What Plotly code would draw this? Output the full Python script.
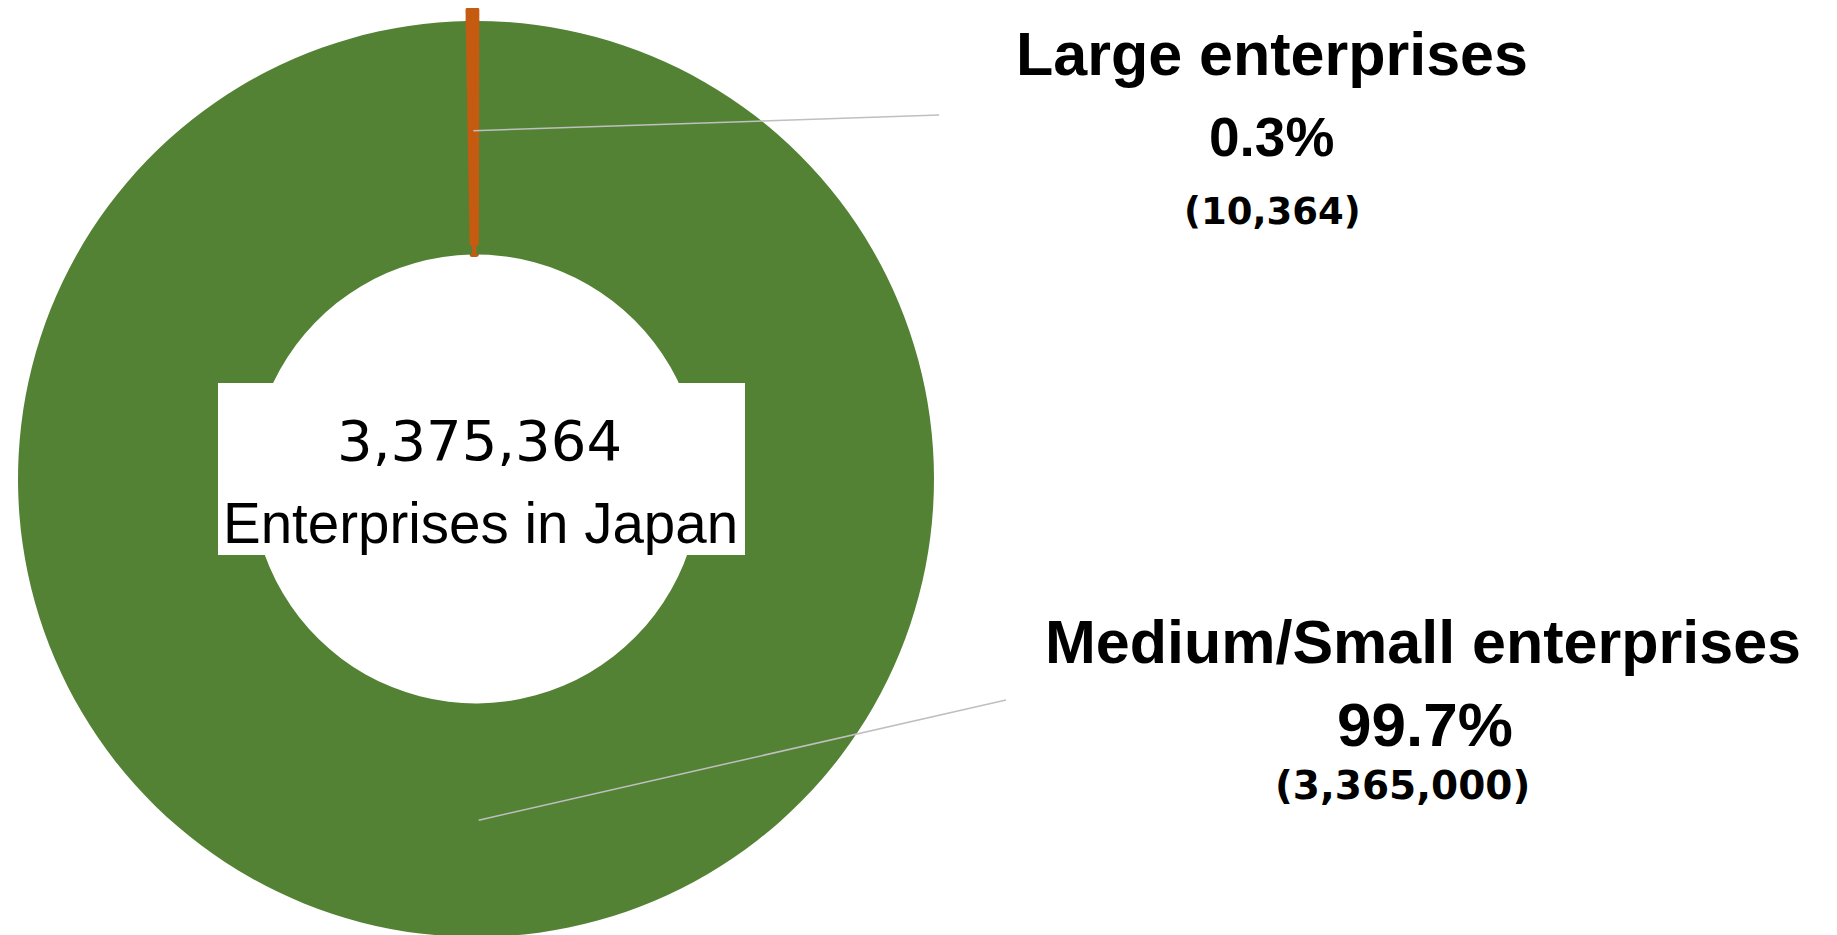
import math
import plotly.graph_objects as go

# ---------------- data ----------------
categories = ["Large enterprises", "Medium/Small enterprises"]
counts = [10364, 3365000]
slice_colors = ["#C55A11", "#548235"]
center_caption = "Enterprises in Japan"

# ---------------- layout geometry (figure pixels) ----------------
W, H = 1837, 935
CX, CY, R = 468, 471, 458
HOLE = 0.49
ROT = -1
LIFT = 11          # outward offset of the small "Large" slice (pixels)
EDGE = 5           # outline width of the small slice

def px(x):
    return x / W

def py(y):
    return 1 - y / H

def domain_for(cx, cy, r):
    return dict(x=[max(0, px(cx - r)), min(1, px(cx + r))],
                y=[max(0, py(cy + r)), min(1, py(cy - r))])

total = sum(counts)

fig = go.Figure()
fig.add_trace(go.Pie(
    labels=categories, values=counts, sort=False, direction="clockwise",
    rotation=ROT, hole=HOLE,
    marker=dict(colors=slice_colors,
                line=dict(color=[slice_colors[0], slice_colors[1]], width=[EDGE, 0])),
    textinfo="none", hoverinfo="label+value+percent",
    domain=domain_for(CX, CY, R), showlegend=False,
))
# the small slice drawn again, lifted outwards (exploded look)
fig.add_trace(go.Pie(
    labels=categories, values=counts, sort=False, direction="clockwise",
    rotation=ROT, hole=HOLE,
    marker=dict(colors=[slice_colors[0], "rgba(0,0,0,0)"],
                line=dict(color=[slice_colors[0], "rgba(0,0,0,0)"], width=[EDGE, 0])),
    textinfo="none", hoverinfo="skip",
    domain=domain_for(CX, CY - LIFT, R), showlegend=False,
))

# label placement per category (figure pixels)
label_layout = [
    dict(x_title=1264, y_title=45.5, x_pct=1263, y_pct=129, x_cnt=1264, y_cnt=203.5,
         title_size=61, pct_size=55, cnt_size=37, lead=7, end=(931, 107)),
    dict(x_title=1415, y_title=634, x_pct=1417, y_pct=716, x_cnt=1394, y_cnt=777.5,
         title_size=61, pct_size=62, cnt_size=39, lead=0, end=(998, 692)),
]

annotations = []
shapes = []

# white box behind the centre text
shapes.append(dict(type="rect", xref="paper", yref="paper",
                   x0=px(210), x1=px(737), y0=py(547), y1=py(375),
                   fillcolor="#FFFFFF", line=dict(width=0), layer="above"))

def add_text(text, x, y, family, size):
    annotations.append(dict(text=text, x=px(x), y=py(y), xref="paper", yref="paper",
                            showarrow=False, xanchor="center", yanchor="middle",
                            font=dict(family=family, size=size, color="#000000")))

cum = 0
for i, (cat, v) in enumerate(zip(categories, counts)):
    mid = math.radians(ROT + 360 * (cum + v / 2) / total)
    cum += v
    L = label_layout[i]
    rad = R * (1 + HOLE) / 2 + L["lead"]
    sx = CX + rad * math.sin(mid)
    sy = CY - rad * math.cos(mid)
    ex, ey = L["end"]
    shapes.append(dict(type="line", xref="paper", yref="paper",
                       x0=px(sx), y0=py(sy), x1=px(ex), y1=py(ey),
                       line=dict(color="#BFBFBF", width=1.5), layer="above"))
    pct = f"{100 * v / total:.1f}%"
    add_text(f"<b>{cat}</b>", L["x_title"], L["y_title"], "Liberation Sans, Arial", L["title_size"])
    add_text(f"<b>{pct}</b>", L["x_pct"], L["y_pct"], "Liberation Sans, Arial", L["pct_size"])
    add_text(f"<b>({v:,})</b>", L["x_cnt"], L["y_cnt"], "DejaVu Sans", L["cnt_size"])

# centre text
add_text(f"{total:,}", 472, 432, "DejaVu Sans", 56)
add_text(center_caption, 473, 515, "Liberation Sans, Arial", 56.5)

fig.update_layout(
    width=W, height=H,
    margin=dict(l=0, r=0, t=0, b=0),
    paper_bgcolor="#FFFFFF",
    plot_bgcolor="#FFFFFF",
    shapes=shapes,
    annotations=annotations,
)

fig.write_html("out.html")
